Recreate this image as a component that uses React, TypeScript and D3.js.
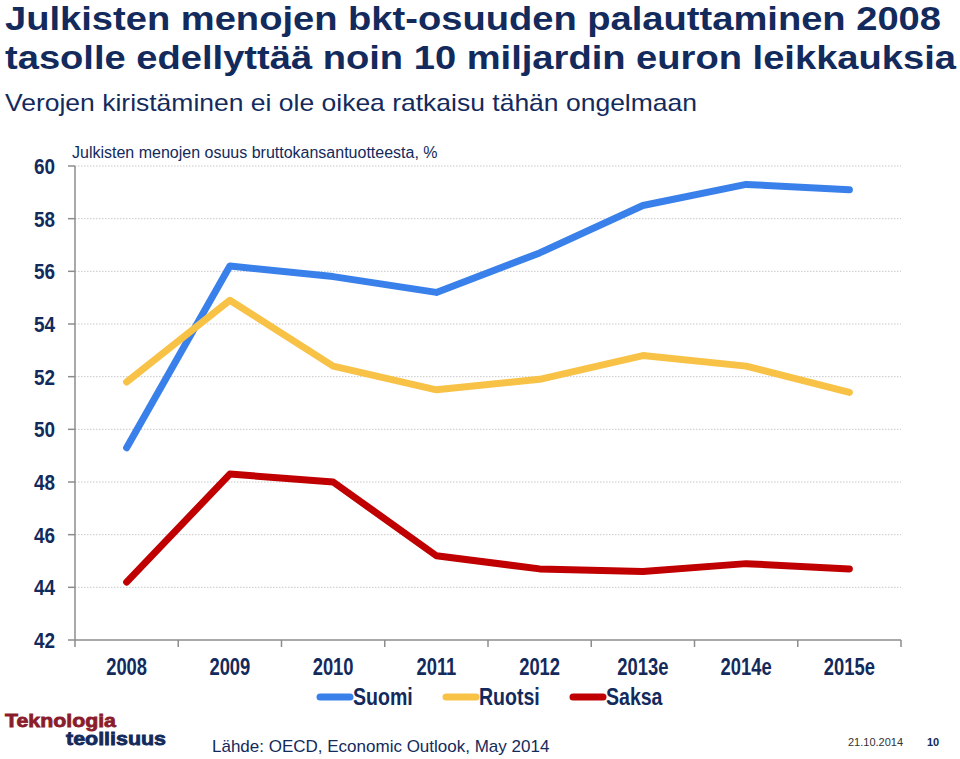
import React from 'react';
import * as d3 from 'd3';

const years = ['2008', '2009', '2010', '2011', '2012', '2013e', '2014e', '2015e'];
const suomi = [49.3, 56.2, 55.8, 55.2, 56.7, 58.5, 59.3, 59.1];
const ruotsi = [51.8, 54.9, 52.4, 51.5, 51.9, 52.8, 52.4, 51.4];
const saksa = [44.2, 48.3, 48.0, 45.2, 44.7, 44.6, 44.9, 44.7];
const yTicks = [42, 44, 46, 48, 50, 52, 54, 56, 58, 60];

const series = [
  { name: 'Suomi', values: suomi, color: '#3a80ea' },
  { name: 'Ruotsi', values: ruotsi, color: '#f8c247' },
  { name: 'Saksa', values: saksa, color: '#c00000' },
];

const navy = '#132a5c';
const sans = '"Liberation Sans", Arial, sans-serif';

// condensed look: squeeze a normal face horizontally
const Narrow: React.FC<{ x: number; y: number; size: number; anchor?: string; sx?: number; bold?: boolean; children: React.ReactNode }> =
  ({ x, y, size, anchor = 'start', sx = 0.82, bold = true, children }) => (
    <text transform={`translate(${x},${y}) scale(${sx},1)`} textAnchor={anchor}
      fontFamily={sans} fontWeight={bold ? 'bold' : 'normal'} fontSize={size} fill={navy}>
      {children}
    </text>
  );

const App: React.FC = () => {
  const x = d3.scaleBand<string>().domain(years).range([75, 901]);
  const y = d3.scaleLinear().domain([42, 60]).range([640, 166]);
  const cx = (i: number) => (x(years[i]) as number) + x.bandwidth() / 2;

  const line = d3.line<number>()
    .x((_, i) => cx(i))
    .y(d => y(d));

  const legendX = [320, 446, 573];

  return (
    <svg width="960" height="759" viewBox="0 0 960 759"
      style={{ position: 'absolute', left: 0, top: 0 }}>
      <rect width="960" height="759" fill="#fff" />

      {/* Title */}
      <text x="5" y="30" fontFamily={sans} fontWeight="bold" fontSize="34" fill={navy}
        textLength="936" lengthAdjust="spacingAndGlyphs">
        Julkisten menojen bkt-osuuden palauttaminen 2008
      </text>
      <text x="5" y="69" fontFamily={sans} fontWeight="bold" fontSize="34" fill={navy}
        textLength="951" lengthAdjust="spacingAndGlyphs">
        tasolle edellyttää noin 10 miljardin euron leikkauksia
      </text>
      <text x="5" y="111" fontFamily={sans} fontSize="24" fill={navy}
        textLength="692" lengthAdjust="spacingAndGlyphs">
        Verojen kiristäminen ei ole oikea ratkaisu tähän ongelmaan
      </text>

      {/* Chart caption */}
      <text x="72" y="158" fontFamily={sans} fontSize="16" fill={navy}>
        Julkisten menojen osuus bruttokansantuotteesta, %
      </text>

      {/* Grid */}
      {yTicks.map(t => (
        <g key={`g-${t}`}>
          {t !== 42 && (
            <line x1={75} x2={901} y1={y(t)} y2={y(t)} stroke="#c8c8c8" strokeWidth="1"
              strokeDasharray="1.5 1.5" />
          )}
          <line x1={68} x2={75} y1={y(t)} y2={y(t)} stroke="#8c8c8c" strokeWidth="1.5" />
          <Narrow x={55} y={y(t) + 8} size={22} anchor="end" sx={0.86}>{t}</Narrow>
        </g>
      ))}

      {/* Axes */}
      <line x1={75} x2={75} y1={166} y2={640} stroke="#8c8c8c" strokeWidth="1.5" />
      <line x1={75} x2={901} y1={640} y2={640} stroke="#8c8c8c" strokeWidth="1.5" />
      {years.map(yr => (
        <line key={`xt-${yr}`} x1={x(yr)} x2={x(yr)} y1={640} y2={647} stroke="#8c8c8c" strokeWidth="1.5" />
      ))}
      <line x1={901} x2={901} y1={640} y2={647} stroke="#8c8c8c" strokeWidth="1.5" />
      {years.map((yr, i) => (
        <Narrow key={`xl-${yr}`} x={cx(i)} y={675} size={23} anchor="middle" sx={0.8}>{yr}</Narrow>
      ))}

      {/* Lines */}
      {series.map(s => (
        <path key={s.name} d={line(s.values) || ''} fill="none" stroke={s.color}
          strokeWidth="7" strokeLinecap="round" strokeLinejoin="round" />
      ))}

      {/* Legend */}
      {series.map((s, i) => (
        <g key={`lg-${s.name}`}>
          <line x1={legendX[i]} x2={legendX[i] + 30} y1={697} y2={697} stroke={s.color}
            strokeWidth="7" strokeLinecap="round" />
          <Narrow x={legendX[i] + 33} y={705} size={23} sx={0.85}>{s.name}</Narrow>
        </g>
      ))}

      {/* Logo */}
      <text x="5" y="727" fontFamily={sans} fontWeight="bold" fontSize="19" fill="#8a1c2c"
        stroke="#8a1c2c" strokeWidth="0.8" textLength="111" lengthAdjust="spacingAndGlyphs">
        Teknologia
      </text>
      <text x="66" y="745" fontFamily={sans} fontWeight="bold" fontSize="19" fill={navy}
        stroke={navy} strokeWidth="0.8" textLength="100" lengthAdjust="spacingAndGlyphs">
        teollisuus
      </text>

      {/* Footer */}
      <text x="212" y="752" fontFamily={sans} fontSize="17" fill={navy}>
        Lähde: OECD, Economic Outlook, May 2014
      </text>
      <text x="848" y="746" fontFamily={sans} fontSize="11" fill="#333">
        21.10.2014
      </text>
      <text x="927" y="746" fontFamily={sans} fontWeight="bold" fontSize="11" fill={navy}>
        10
      </text>
    </svg>
  );
};

export default App;
